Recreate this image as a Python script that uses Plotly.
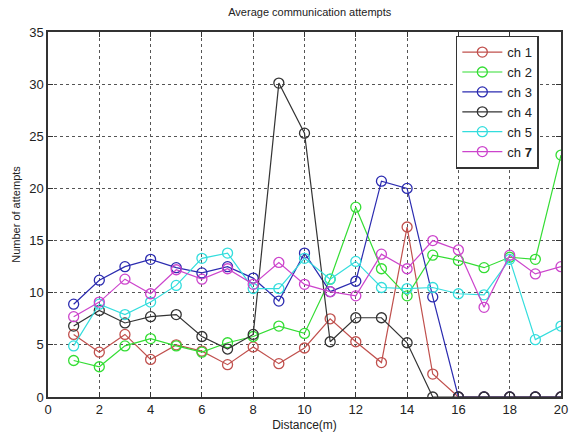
import plotly.graph_objects as go

distance = list(range(1, 21))
ch1 = [6.0, 4.3, 6.0, 3.6, 5.0, 4.4, 3.1, 4.8, 3.2, 4.7, 7.5, 5.3, 3.3, 16.3, 2.2, 0, 0, 0, 0, 0]
ch2 = [3.5, 2.9, 4.9, 5.6, 4.9, 4.3, 5.2, 5.8, 6.8, 6.1, 11.3, 18.2, 12.3, 9.7, 13.6, 13.1, 12.4, 13.4, 13.2, 23.2]
ch3 = [8.9, 11.2, 12.5, 13.2, 12.4, 11.9, 12.5, 11.4, 9.2, 13.8, 10.1, 11.1, 20.7, 20.0, 9.6, 0, 0, 0, 0, 0]
ch4 = [6.8, 8.3, 7.1, 7.7, 7.9, 5.8, 4.6, 6.0, 30.1, 25.3, 5.3, 7.6, 7.6, 5.2, 0, 0, 0, 0, 0, 0]
ch5 = [4.9, 8.9, 7.9, 9.1, 10.7, 13.3, 13.8, 10.4, 10.4, 13.3, 11.3, 13.0, 10.5, 10.4, 10.5, 9.9, 9.8, 13.2, 5.5, 6.8]
ch7 = [7.7, 9.1, 11.3, 9.9, 12.2, 11.3, 12.3, 10.8, 12.9, 10.8, 10.1, 9.7, 13.7, 12.3, 15.0, 14.1, 8.6, 13.6, 11.8, 12.5]

series = [
    ("ch 1", ch1, "#c0504d"),
    ("ch 2", ch2, "#33dd33"),
    ("ch 3", ch3, "#2b2bb0"),
    ("ch 4", ch4, "#333333"),
    ("ch 5", ch5, "#33dddd"),
    ("ch <b>7</b>", ch7, "#cc44cc"),
]

x_ticks = [0, 2, 4, 6, 8, 10, 12, 14, 16, 18, 20]
y_ticks = [0, 5, 10, 15, 20, 25, 30, 35]

fig = go.Figure()
for name, vals, col in series:
    fig.add_trace(go.Scatter(
        x=distance, y=vals, name=name, mode="lines+markers",
        line=dict(color=col, width=1.2),
        marker=dict(symbol="circle-open", size=10, color=col, line=dict(width=1.3, color=col)),
    ))

fig.update_layout(
    width=579, height=441,
    margin=dict(l=48, r=11, t=32, b=40),
    paper_bgcolor="white", plot_bgcolor="white",
    font=dict(family="Liberation Sans, Arial, sans-serif", size=12, color="#222222"),
    title=dict(text="Average communication attempts", x=0.535, xanchor="center",
               y=0.972, yanchor="middle", font=dict(size=11)),
    legend=dict(x=0.795, y=0.99, xanchor="left", yanchor="top",
                bgcolor="white", bordercolor="#333333", borderwidth=1.5,
                font=dict(size=13, color="#222222"), tracegroupgap=0,
                itemwidth=40),
    showlegend=True,
)
fig.update_xaxes(
    range=[0, 20], tickvals=x_ticks, ticks="inside", ticklen=5, tickcolor="#333333",
    showline=True, linecolor="#333333", linewidth=1.5, mirror="ticks",
    showgrid=True, gridcolor="#555555", griddash="dot", gridwidth=1,
    zeroline=False,
    title=dict(text="Distance(m)", font=dict(size=12), standoff=4),
    tickfont=dict(size=13),
)
fig.update_yaxes(
    range=[0, 35], tickvals=y_ticks, ticks="inside", ticklen=5, tickcolor="#333333",
    showline=True, linecolor="#333333", linewidth=1.5, mirror="ticks",
    showgrid=True, gridcolor="#555555", griddash="dot", gridwidth=1,
    zeroline=False,
    title=dict(text="Number of attempts", font=dict(size=11), standoff=6),
    tickfont=dict(size=13),
)

fig.write_html("out.html")
